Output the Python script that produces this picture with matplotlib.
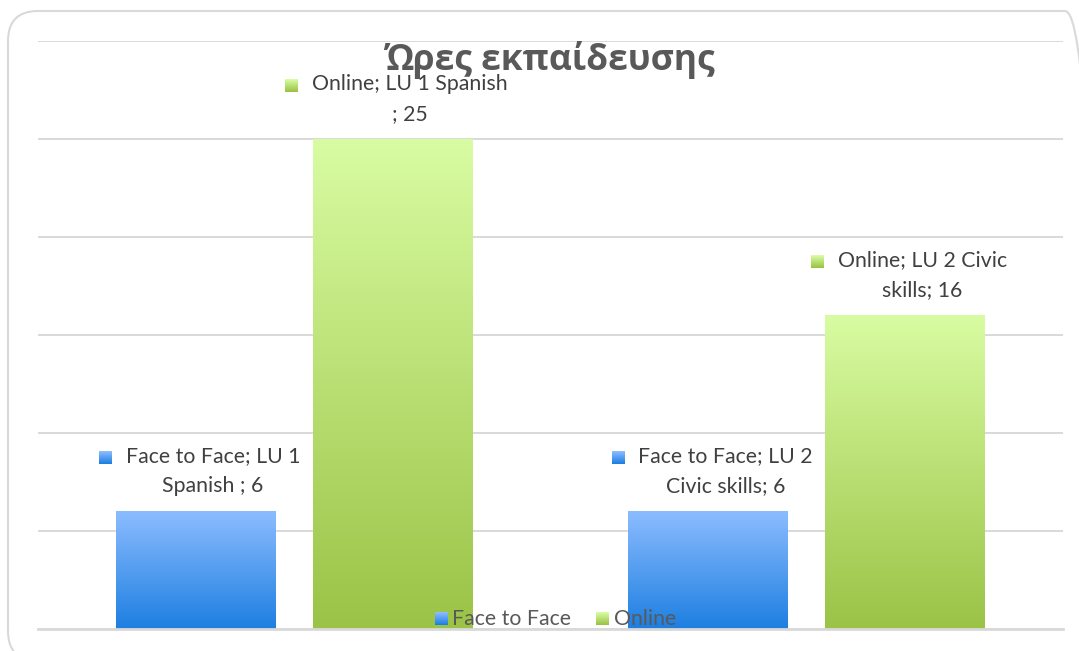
import textwrap

import matplotlib
matplotlib.use("Agg")
import matplotlib.pyplot as plt
import numpy as np
from matplotlib.colors import LinearSegmentedColormap, to_rgb
from matplotlib.patches import FancyBboxPatch, Patch
from matplotlib.transforms import IdentityTransform

plt.rcParams['font.family'] = ['Lato', 'Noto Sans', 'DejaVu Sans']

title = "Ώρες εκπαίδευσης"
categories = ["LU 1 Spanish ", "LU 2 Civic skills"]
series = ["Face to Face", "Online"]
face_to_face = [6, 6]
online = [25, 16]

# gradient colours (bottom, top) for each series
grad_colors = {
    "Face to Face": ("#1D7FE1", "#8CBCFF"),
    "Online": ("#9BC346", "#D8FCA2"),
}
grid_col = "#D9D9D9"
text_col = "#404040"

W, H, DPI = 1079, 651, 100
fig = plt.figure(figsize=(W / DPI, H / DPI), dpi=DPI)
ax = fig.add_axes([38 / W, 22 / H, 1025 / W, 588 / H])

x = np.arange(len(categories))
width = 0.312
offsets = [-0.192, 0.192]
grad = np.linspace(0, 1, 256).reshape(-1, 1)

labels = []
for s, vals, off in zip(series, [face_to_face, online], offsets):
    cmap = LinearSegmentedColormap.from_list(s, grad_colors[s])
    bars = ax.bar(x + off, vals, width, color='none', zorder=2)
    for b, cat, v in zip(bars, categories, vals):
        x0, y0 = b.get_xy()
        ax.imshow(grad, cmap=cmap, origin='lower', aspect='auto', zorder=2,
                  extent=(x0, x0 + b.get_width(), y0, y0 + b.get_height()))
        txt = textwrap.fill(f"{s}; {cat}; {v}", width=20)
        t = ax.annotate(txt, (x0 + b.get_width() / 2, y0 + b.get_height()),
                        xytext=(17, 15), textcoords='offset pixels',
                        ha='center', va='bottom', multialignment='center',
                        fontsize=15.3, color=text_col, linespacing=1.65, zorder=4)
        labels.append((t, s))

ax.set_xlim(-0.5, 1.5)
ax.set_ylim(0, 30)
ax.set_yticks(np.arange(0, 31, 5))
ax.set_xticks([])
ax.tick_params(left=False, labelleft=False)
ax.yaxis.grid(True, color=grid_col, lw=1.4)
ax.set_axisbelow(True)
for sp in ['top', 'left', 'right']:
    ax.spines[sp].set_visible(False)
ax.spines['bottom'].set_color(grid_col)
ax.spines['bottom'].set_linewidth(2)

handles = [Patch(facecolor='none', edgecolor='none', label=s) for s in series]
leg = ax.legend(handles=handles, loc='center', bbox_to_anchor=(0.505, 0.017),
                ncol=2, frameon=False, fontsize=15.3, labelcolor="#595959",
                handlelength=0.65, handleheight=0.65, handletextpad=0.15,
                columnspacing=1.2, borderpad=0)
leg.set_zorder(5)

fig.text(550 / W, 1 - 60 / H, title, ha='center', va='center', fontsize=25.5,
         fontweight='bold', color="#595959",
         family=['Open Sans', 'Noto Sans', 'DejaVu Sans'])

# rounded chart border
fig.patches.append(FancyBboxPatch((8, -10), 1087, 650,
                                  boxstyle='round,pad=0,rounding_size=30',
                                  transform=IdentityTransform(), fill=False,
                                  edgecolor=grid_col, lw=1.5))


def key_square(xo, yo, s, size=13):
    lo, hi = np.array(to_rgb(grad_colors[s][0])), np.array(to_rgb(grad_colors[s][1]))
    f = np.linspace(1, 0, size).reshape(-1, 1, 1)
    arr = lo + (hi - lo) * f
    arr = np.repeat(arr, size, axis=1)
    fig.figimage(arr, xo=int(xo), yo=int(yo), origin='upper', zorder=6)


fig.canvas.draw()
for t, s in labels:
    bb = t.get_window_extent()
    lh = bb.height / 2
    yc = bb.y1 - lh / 2
    key_square(bb.x0 - 26, yc - 5, s)
for h, s in zip(leg.legend_handles, series):
    bb = h.get_window_extent()
    key_square(bb.x0, bb.y0 + (bb.height - 13) / 2, s)

fig.savefig("out.png", dpi=DPI)
